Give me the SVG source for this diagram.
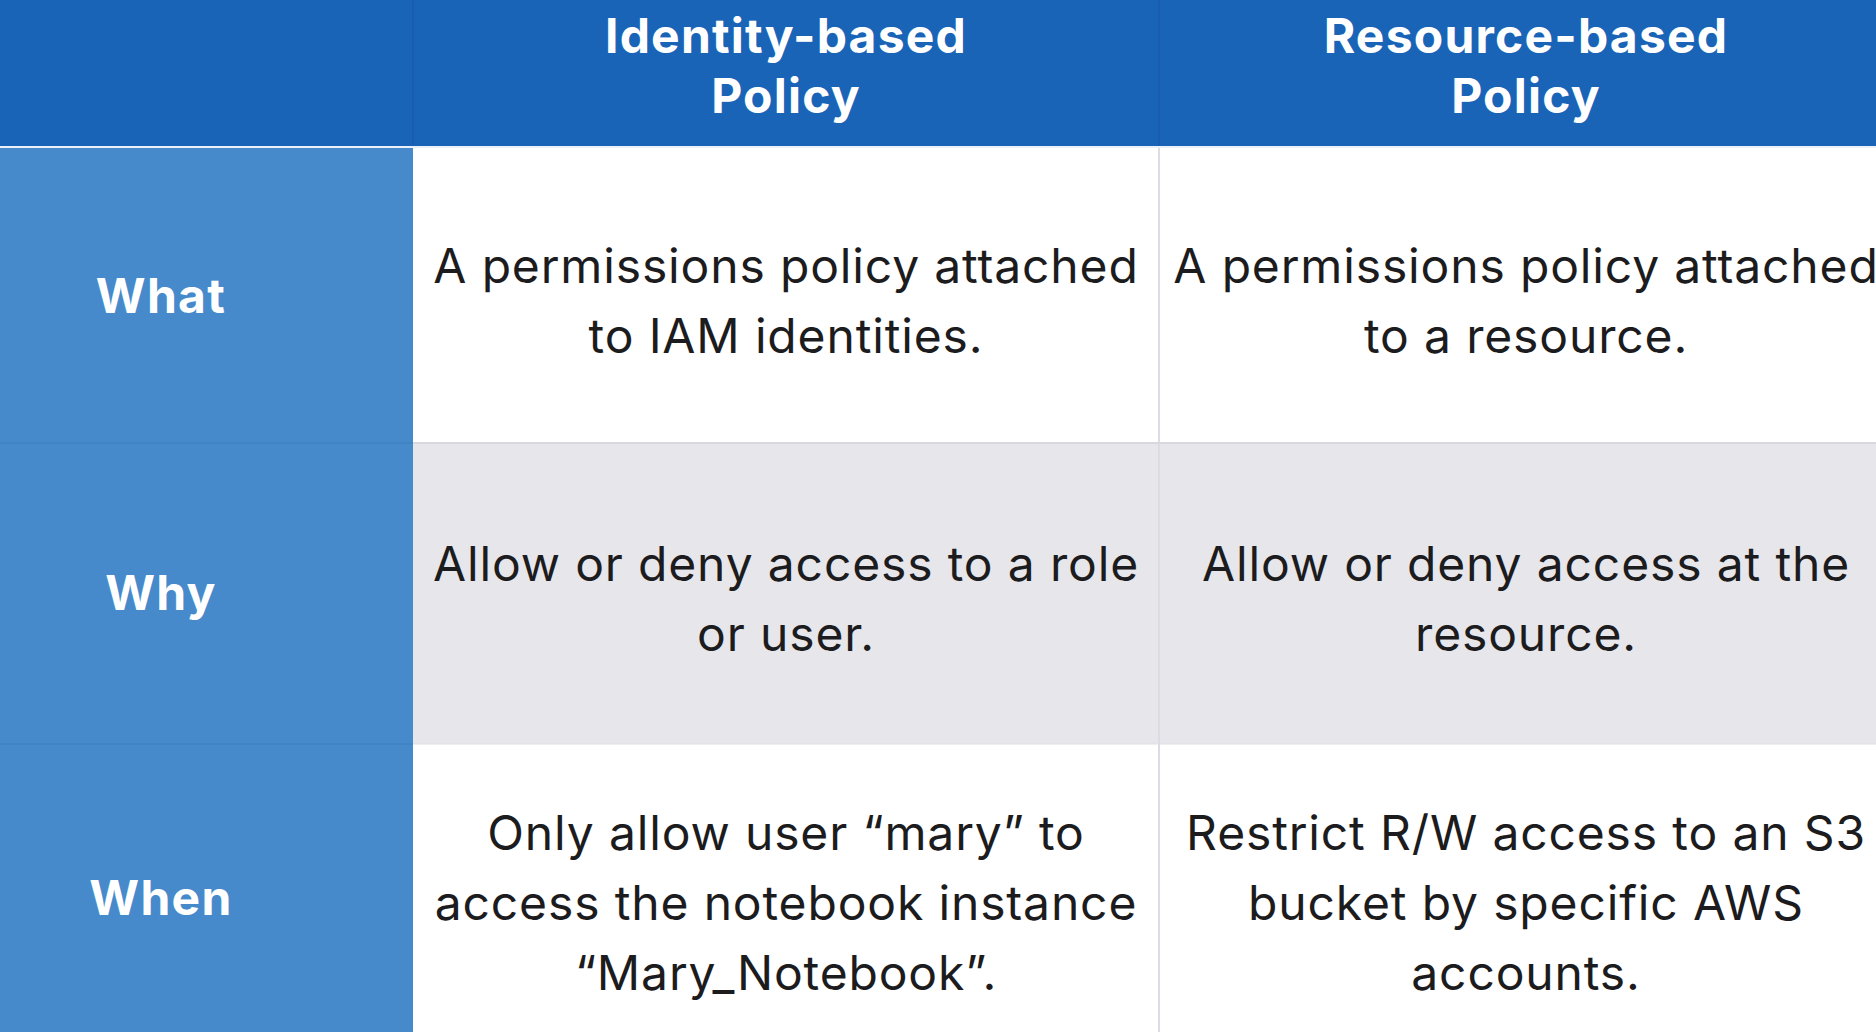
<svg xmlns="http://www.w3.org/2000/svg" width="1876" height="1032" viewBox="0 0 1876 1032">
  <style>
    .hdr { font-family: Inter, "Noto Sans", "Liberation Sans", sans-serif; font-weight: 700; font-size: 48px; letter-spacing: 1.2px; fill: #ffffff; text-anchor: middle; }
    .lbl { font-family: Inter, "Noto Sans", "Liberation Sans", sans-serif; font-weight: 700; font-size: 48px; letter-spacing: 1.3px; fill: #ffffff; text-anchor: middle; }
    .body { font-family: Inter, "Noto Sans", "Liberation Sans", sans-serif; font-weight: 400; font-size: 48px; letter-spacing: 0.85px; fill: #1c1c1e; text-anchor: middle; }
    .vline { stroke: #dcdce2; stroke-width: 2; }
  </style>
  <rect x="0" y="0" width="1876" height="1032" fill="#ffffff"/>
  <g id="header">
    <rect x="0" y="0" width="1876" height="147" fill="#1a64b8"/>
    <line x1="413" y1="0" x2="413" y2="147" stroke="#185daf" stroke-width="2"/>
    <line x1="1159" y1="0" x2="1159" y2="147" stroke="#185daf" stroke-width="2"/>
    <text class="hdr" x="786" y="53">Identity-based</text>
    <text class="hdr" x="786" y="113">Policy</text>
    <text class="hdr" x="1526" y="53">Resource-based</text>
    <text class="hdr" x="1526" y="113">Policy</text>
  </g>
  <g id="row-what">
    <rect x="0" y="147" width="413" height="296" fill="#468acb"/>
    <rect x="413" y="147" width="1463" height="296" fill="#ffffff"/>
    <text class="lbl" x="161" y="313">What</text>
    <text class="body" x="786" y="283">A permissions policy attached</text>
    <text class="body" x="786" y="353">to IAM identities.</text>
    <text class="body" x="1526" y="283">A permissions policy attached</text>
    <text class="body" x="1526" y="353">to a resource.</text>
  </g>
  <g id="row-why">
    <rect x="0" y="443" width="413" height="301" fill="#468acb"/>
    <rect x="413" y="443" width="1463" height="301" fill="#e6e6eb"/>
    <text class="lbl" x="161" y="610">Why</text>
    <text class="body" x="786" y="581">Allow or deny access to a role</text>
    <text class="body" x="786" y="651">or user.</text>
    <text class="body" x="1526" y="581">Allow or deny access at the</text>
    <text class="body" x="1526" y="651">resource.</text>
  </g>
  <g id="row-when">
    <rect x="0" y="744" width="413" height="288" fill="#468acb"/>
    <rect x="413" y="744" width="1463" height="288" fill="#ffffff"/>
    <text class="lbl" x="161" y="915">When</text>
    <text class="body" x="786" y="850">Only allow user “mary” to</text>
    <text class="body" x="786" y="920">access the notebook instance</text>
    <text class="body" x="786" y="990">“Mary_Notebook”.</text>
    <text class="body" x="1526" y="850">Restrict R/W access to an S3</text>
    <text class="body" x="1526" y="920">bucket by specific AWS</text>
    <text class="body" x="1526" y="990">accounts.</text>
  </g>
  <g id="gridlines">
    <line x1="0" y1="147" x2="1876" y2="147" stroke="#eaf1fa" stroke-width="2"/>
    <line class="vline" x1="1159" y1="148" x2="1159" y2="1032"/>
    <line x1="413" y1="443" x2="1876" y2="443" stroke="#d8d8de" stroke-width="2"/>
    <line x1="0" y1="443" x2="413" y2="443" stroke="#4184c4" stroke-width="2"/>
    <line x1="413" y1="744" x2="1876" y2="744" stroke="#e0e0e6" stroke-width="1"/>
    <line x1="0" y1="744" x2="413" y2="744" stroke="#4184c4" stroke-width="2"/>
  </g>
</svg>
